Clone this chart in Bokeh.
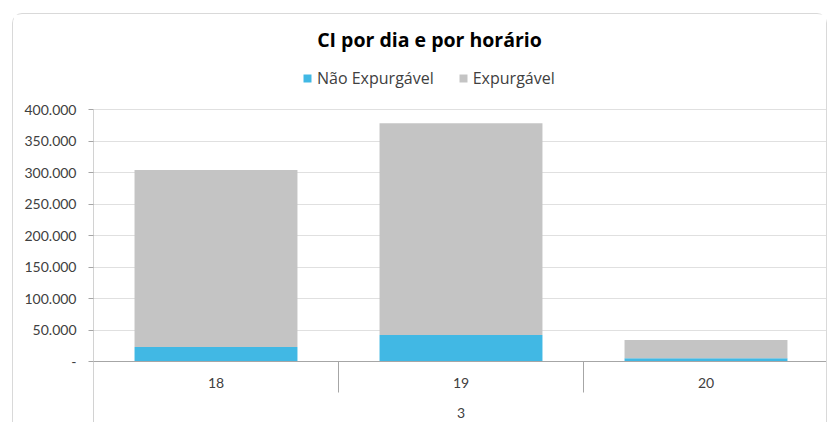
from bokeh.plotting import figure
from bokeh.models import (ColumnDataSource, Range1d, FixedTicker, Span, Legend,
                          LegendItem, Label)
from bokeh.core.properties import value
from bokeh.embed import file_html
from bokeh.resources import INLINE

# ---- data ----
categories = ["18", "19", "20"]
group_label = "3"
nao_expurgavel = [23000, 42000, 5000]
expurgavel = [281000, 336000, 29000]
y_ticks = [0, 50000, 100000, 150000, 200000, 250000, 300000, 350000, 400000]
title_text = "CI por dia e por horário"
series_labels = ["Não Expurgável", "Expurgável"]

FONT = "Lato"
FONT2 = "Open Sans"
BLUE = "#41B8E4"
GREY = "#C4C4C4"
AXIS = "#a6a6a6"
TXT = "#404040"

# layout: pixels of the frame relative to the zero line
W, H = 815, 409
border_left = 80
y_max = 400000
px_axis = 252          # pixels from 0 to y_max
px_above = 347         # frame pixels above zero
px_below = H - px_above
per_px = y_max / px_axis
y_end = px_above * per_px
y_start = -px_below * per_px
cat_px = (W - border_left) / len(categories)

xs = [i + 0.5 for i in range(len(categories))]
source = ColumnDataSource(dict(x=xs, cat=categories,
                               nao=nao_expurgavel, exp=expurgavel))

p = figure(width=W, height=H, output_backend="svg", toolbar_location=None,
           x_range=Range1d(0, len(categories)), y_range=Range1d(y_start, y_end),
           x_axis_location=None,
           min_border_left=border_left, min_border_right=0, min_border_top=0,
           min_border_bottom=0)
p.margin = (13, 0, 0, 12)
p.styles = {"border-top": "1px solid #d9d9d9", "border-left": "1px solid #d9d9d9",
            "border-right": "1px solid #d9d9d9", "border-top-left-radius": "10px",
            "border-top-right-radius": "10px"}
p.outline_line_color = None
p.background_fill_color = "white"

renderers = p.vbar_stack(["nao", "exp"], x="x", width=0.665, source=source,
                         color=[BLUE, GREY], line_color=None)

# y axis
p.yaxis.ticker = FixedTicker(ticks=y_ticks)
p.yaxis.major_label_overrides = {t: (f"{t:,}".replace(",", ".") if t else "-")
                                 for t in y_ticks}
p.yaxis.axis_line_color = None
p.yaxis.major_tick_line_color = AXIS
p.yaxis.major_tick_out = 5
p.yaxis.major_tick_in = 0
p.yaxis.minor_tick_line_color = None
p.yaxis.major_label_standoff = 12
p.yaxis.major_label_text_font = FONT
p.yaxis.major_label_text_font_size = "14px"
p.yaxis.major_label_text_color = TXT

p.ygrid.ticker = FixedTicker(ticks=y_ticks[1:])
p.ygrid.grid_line_color = "#e0e0e0"
p.xgrid.grid_line_color = None

# vertical axis line (from bottom of frame up to top tick)
p.segment(x0=[0], y0=[y_start], x1=[0], y1=[y_ticks[-1]],
          line_color=AXIS, line_width=1)
# horizontal axis line at zero
p.add_layout(Span(location=0, dimension="width", line_color=AXIS, line_width=1))

# category separators
sep_depth = -31 * per_px
sep_x = list(range(1, len(categories) + 1))
p.segment(x0=sep_x, y0=[0] * len(sep_x), x1=sep_x, y1=[sep_depth] * len(sep_x),
          line_color=AXIS, line_width=1)

# category labels
p.text(x="x", y=0, text="cat", source=source, y_offset=21,
       text_align="center", text_baseline="middle",
       text_font=value(FONT), text_font_size="14px", text_color=TXT)
p.text(x=[len(categories) / 2], y=[0], text=[group_label], y_offset=51,
       text_align="center", text_baseline="middle",
       text_font=value(FONT), text_font_size="14px", text_color=TXT)

# title
title_x = (429 - 93) / cat_px
p.add_layout(Label(x=title_x, y=322.5 * per_px, text=title_text,
                   text_align="center", text_baseline="middle",
                   text_font=FONT2, text_font_size="19.5px", text_font_style="bold",
                   text_color="#000000"))

legend = Legend(items=[LegendItem(label=series_labels[0], renderers=[renderers[0]]),
                       LegendItem(label=series_labels[1], renderers=[renderers[1]])],
                orientation="horizontal", location=(209, 334),
                border_line_color=None, background_fill_alpha=0,
                label_text_font=FONT2, label_text_font_size="16px",
                label_text_color=TXT, glyph_width=10, glyph_height=10,
                spacing=24, padding=2, margin=0, label_standoff=5)
p.add_layout(legend, "center")

open("out.html", "w").write(file_html(p, INLINE))
